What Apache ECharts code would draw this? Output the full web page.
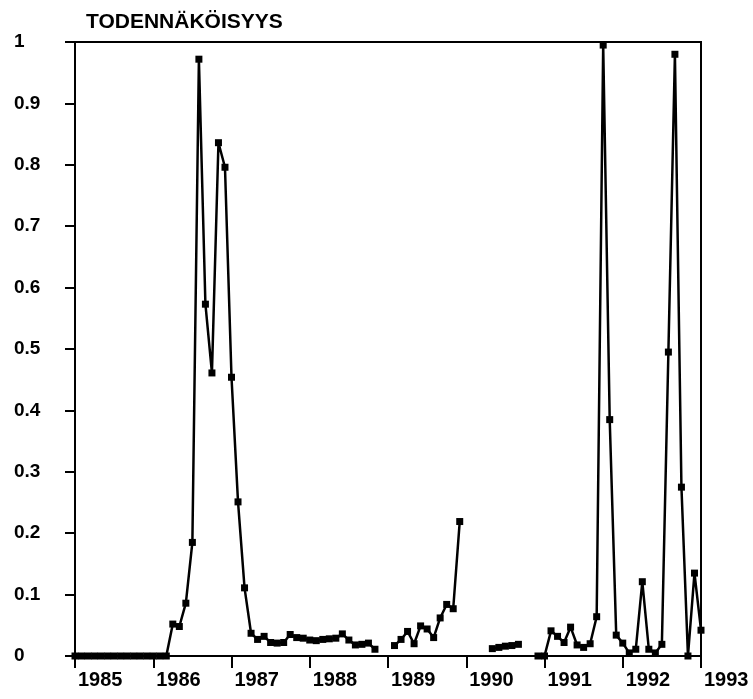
<!DOCTYPE html>
<html>
<head>
<meta charset="utf-8">
<script src="https://cdn.jsdelivr.net/npm/echarts@6/dist/echarts.min.js"></script>
<style>html,body{margin:0;padding:0;background:#fff}#c{width:753px;height:699px}</style>
</head>
<body>
<div id="c"></div>
<script>
var years = [1985, 1986, 1987, 1988, 1989, 1990, 1991, 1992];
var lastYear = 1993;
var yTitle = 'TODENNÄKÖISYYS';
// monthly probabilities, Jan 1985 .. Jan 1993 (null = missing)
var probability = [
  0, 0, 0, 0, 0, 0, 0, 0, 0, 0, 0, 0,
  0, 0, 0, 0.052, 0.048, 0.086, 0.185, 0.972, 0.573, 0.461, 0.836, 0.796,
  0.454, 0.251, 0.111, 0.037, 0.027, 0.032, 0.022, 0.021, 0.022, 0.035, 0.030, 0.029,
  0.026, 0.025, 0.027, 0.028, 0.029, 0.036, 0.026, 0.018, 0.019, 0.021, 0.011, null,
  null, 0.017, 0.027, 0.040, 0.020, 0.049, 0.044, 0.030, 0.062, 0.084, 0.077, 0.219,
  null, null, null, null, 0.012, 0.014, 0.016, 0.017, 0.019, null, null, 0,
  0, 0.041, 0.032, 0.022, 0.047, 0.018, 0.014, 0.020, 0.064, 0.995, 0.385, 0.034,
  0.021, 0.005, 0.011, 0.121, 0.011, 0.005, 0.019, 0.495, 0.980, 0.275, 0, 0.135,
  0.042
];

var months = [];
years.forEach(function (y) {
  for (var m = 1; m <= 12; m++) months.push(y + '-' + (m < 10 ? '0' : '') + m);
});
months.push(lastYear + '-01');

var font = '"Liberation Sans", Arial, Helvetica, sans-serif';
var chart = echarts.init(document.getElementById('c'));
chart.setOption({
  animation: false,
  backgroundColor: '#fff',
  title: {
    text: yTitle, left: 81, top: 7,
    textStyle: {fontFamily: font, fontWeight: 'bold', fontSize: 21, color: '#000'}
  },
  grid: {left: 75, right: 52, top: 42, bottom: 43, show: true, borderColor: '#000', borderWidth: 2, backgroundColor: 'transparent'},
  xAxis: {
    type: 'category', data: months, boundaryGap: false,
    axisLine: {lineStyle: {color: '#000', width: 2}},
    axisTick: {show: true, length: 12, lineStyle: {color: '#000', width: 2},
      interval: function (i) { return i % 12 === 0; }},
    axisLabel: {
      interval: function (i) { return i % 12 === 0; },
      formatter: function (v) { return v.slice(0, 4); },
      align: 'left', margin: 14, padding: [0, 0, 0, 3],
      fontFamily: font, fontWeight: 'bold', fontSize: 20, color: '#000'
    },
    splitLine: {show: false}
  },
  yAxis: {
    type: 'value', min: 0, max: 1, interval: 0.1,
    axisLine: {show: true, lineStyle: {color: '#000', width: 2}},
    axisTick: {show: true, length: 10, lineStyle: {color: '#000', width: 2}},
    axisLabel: {align: 'left', margin: 61, fontFamily: font, fontWeight: 'bold', fontSize: 19, color: '#000'},
    splitLine: {show: false}
  },
  series: [{
    type: 'line', data: probability, connectNulls: false,
    symbol: 'rect', symbolSize: 7, showAllSymbol: true,
    lineStyle: {color: '#000', width: 2.5},
    itemStyle: {color: '#000'}
  }]
});
</script>
</body>
</html>
